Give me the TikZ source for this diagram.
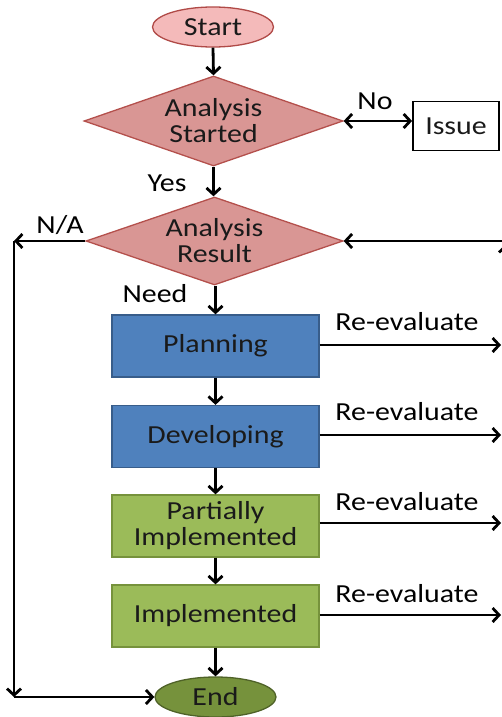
\documentclass[tikz,border=0pt]{standalone}
\usepackage{fontspec}
\setmainfont{Carlito}[FakeStretch=1.15]
\usetikzlibrary{shapes.geometric,arrows.meta}
\definecolor{startfill}{HTML}{F4BABA}
\definecolor{startdraw}{HTML}{B04A47}
\definecolor{diafill}{HTML}{D99694}
\definecolor{diadraw}{HTML}{B4504C}
\definecolor{bluefill}{HTML}{4F81BD}
\definecolor{bluedraw}{HTML}{385D8A}
\definecolor{greenfill}{HTML}{9BBB59}
\definecolor{greendraw}{HTML}{76923C}
\definecolor{endfill}{HTML}{76923C}
\definecolor{enddraw}{HTML}{4F6228}
\definecolor{txt}{HTML}{1A1A1A}
\tikzset{
  every node/.style={font=\fontsize{26}{26}\selectfont, text=txt},
  term/.style={ellipse, draw, line width=1.3pt, inner sep=0pt},
  dec/.style={diamond, aspect=2.88, draw=diadraw, fill=diafill, line width=1.3pt, inner sep=0pt, align=center},
  proc/.style={rectangle, draw, line width=1.3pt, inner sep=0pt, align=center, minimum width=207pt, minimum height=62pt},
  lbl/.style={inner sep=0pt, text=black},
  arr/.style={line width=2.8pt, -{Straight Barb[length=6.5pt,width=14pt,line width=2.8pt]}},
  darr/.style={line width=2.8pt, {Straight Barb[length=6.5pt,width=14pt,line width=2.8pt]}-{Straight Barb[length=6.5pt,width=14pt,line width=2.8pt]}},
}
\begin{document}
\begin{tikzpicture}[x=1pt,y=-1pt]
\useasboundingbox (0,0) rectangle (502,717);
\node[term, fill=startfill, draw=startdraw, minimum width=121pt, minimum height=40pt] (start) at (213,27) {Start};
\node[dec, minimum width=259pt, minimum height=90pt] (as) at (213.5,121) {Analysis\\Started};
\node[rectangle, draw=black, line width=1.8pt, fill=white, minimum width=86pt, minimum height=49pt, inner sep=0pt] (issue) at (456,126) {Issue};
\node[dec, minimum width=257pt, minimum height=88pt] (ar) at (214.5,241) {Analysis\\Result};
\node[proc, fill=bluefill, draw=bluedraw] (plan) at (215.5,346) {Planning};
\node[proc, fill=bluefill, draw=bluedraw] (dev) at (215.5,436.5) {Developing};
\node[proc, fill=greenfill, draw=greendraw] (pi) at (215.5,526) {Partially\\Implemented};
\node[proc, fill=greenfill, draw=greendraw] (impl) at (215.5,616) {Implemented};
\node[term, fill=endfill, draw=enddraw, minimum width=121pt, minimum height=40pt] (end) at (215.5,697) {End};

\node[lbl] (no) at (375,101) {No};
\node[lbl] (yes) at (167,183) {Yes};
\node[lbl] (na) at (60,225) {N/A};
\node[lbl] (need) at (155,294) {Need};
\node[lbl] (re1) at (407,322) {Re-evaluate};
\node[lbl] (re2) at (407,412) {Re-evaluate};
\node[lbl] (re3) at (407,502) {Re-evaluate};
\node[lbl] (re4) at (407,594) {Re-evaluate};

\coordinate (natop) at (14,241);
\coordinate (nabot) at (14,697);
\coordinate (fbtop) at (506,241);
\coordinate (fbtip) at (506,244);
\coordinate (fbbot) at (506,717);
\coordinate (o1) at (501,345);
\coordinate (o2) at (501,435);
\coordinate (o3) at (501,523);
\coordinate (o4) at (501,615);

\draw[arr] (start.south) -- (as.north);
\draw[darr] (as.east) -- (issue.west |- as.east);
\draw[arr] (as.south) -- (ar.north -| as.south);
\draw[arr] (ar.west) -- (natop);
\draw[arr] (natop) -- (nabot);
\draw[arr] (nabot) -- (end.west);
\draw[arr] (fbtop) -- (ar.east);
\draw[arr] (fbbot) -- (fbtip);
\draw[arr] (ar.south -| plan.north) -- (plan.north);
\draw[arr] (plan.south) -- (dev.north);
\draw[arr] (dev.south) -- (pi.north);
\draw[arr] (pi.south) -- (impl.north);
\draw[arr] (impl.south) -- (end.north);
\draw[arr] (plan.east |- o1) -- (o1);
\draw[arr] (dev.east |- o2) -- (o2);
\draw[arr] (pi.east |- o3) -- (o3);
\draw[arr] (impl.east |- o4) -- (o4);
\end{tikzpicture}
\end{document}
